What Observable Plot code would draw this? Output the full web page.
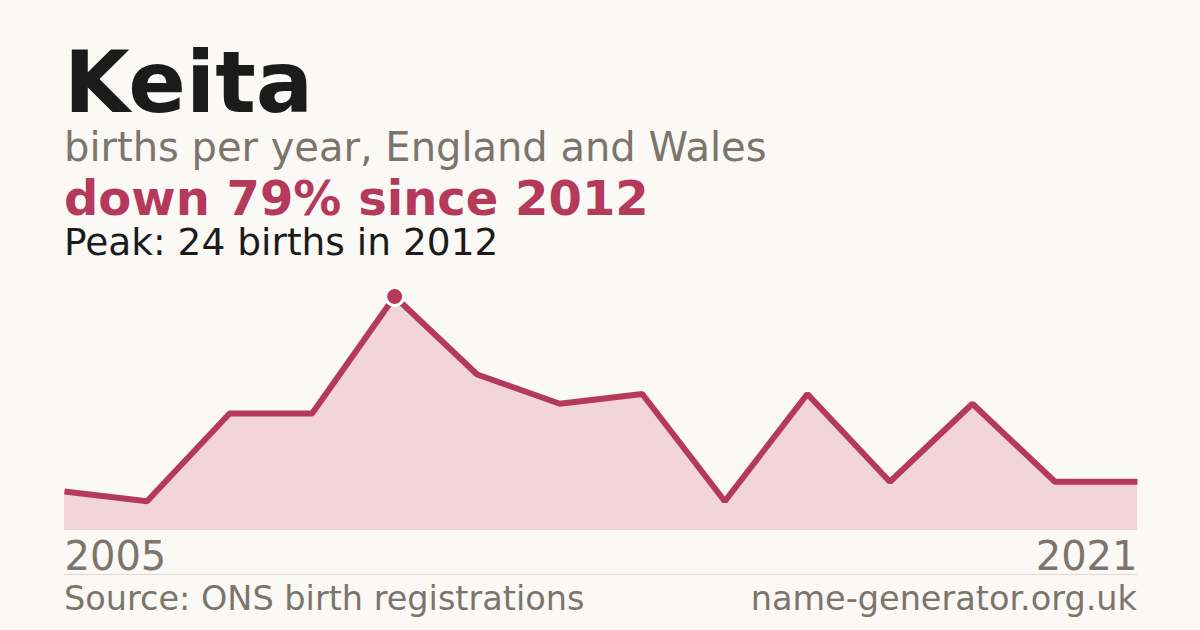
<!DOCTYPE html>
<html>
<head>
<meta charset="utf-8">
<script src="https://cdn.jsdelivr.net/npm/d3@7"></script>
<script src="https://cdn.jsdelivr.net/npm/@observablehq/plot@0.6"></script>
<style>
  html, body { margin: 0; padding: 0; background: #faf9f5; }
  body { width: 1200px; height: 630px; position: relative; overflow: hidden; font-family: "DejaVu Sans", sans-serif; }
  .t { position: absolute; left: 64px; white-space: nowrap; line-height: 1; }
  #title { top: 40px; font-size: 85px; font-weight: bold; color: #1b1b1b; }
  #sub { top: 127px; font-size: 40px; color: #7a756d; }
  #head { top: 174px; font-size: 48px; font-weight: bold; color: #b5395a; }
  #peak { top: 224px; font-size: 37.5px; color: #1b1b1b; }
  #chart { position: absolute; left: 0; top: 280px; }
  #rule { position: absolute; left: 64px; width: 1073px; top: 574px; height: 1px; background: #ddd9d0; }
  #src { position: absolute; left: 64px; top: 582px; font-size: 33.5px; color: #7a756d; white-space: nowrap; line-height: 1; }
  #site { position: absolute; right: 63px; top: 582px; font-size: 33.5px; color: #7a756d; white-space: nowrap; line-height: 1; }
</style>
</head>
<body>
<div class="t" id="title">Keita</div>
<div class="t" id="sub">births per year, England and Wales</div>
<div class="t" id="head">down 79% since 2012</div>
<div class="t" id="peak">Peak: 24 births in 2012</div>
<div id="chart"></div>
<div id="rule"></div>
<div id="src">Source: ONS birth registrations</div>
<div id="site">name-generator.org.uk</div>
<script>
const years = [2005, 2009, 2010, 2011, 2012, 2013, 2014, 2015, 2016, 2017, 2018, 2019, 2020, 2021];
const births = [4, 3, 12, 12, 24, 16, 13, 14, 3, 14, 5, 13, 5, 5];
const yearLabels = ["2005", "2021"];

const data = years.map((y, i) => ({i, year: y, births: births[i]}));
const peakIndex = births.indexOf(d3.max(births));
const peak = [data[peakIndex]];
const ends = [
  {i: 0, label: yearLabels[0]},
  {i: data.length - 1, label: yearLabels[1]}
];

const chart = Plot.plot({
  width: 1200,
  height: 300,
  marginLeft: 64,
  marginRight: 63,
  marginTop: 16,
  marginBottom: 50,
  style: {background: "transparent", fontFamily: "DejaVu Sans, sans-serif", overflow: "visible"},
  x: {domain: [0, data.length - 1], axis: null},
  y: {domain: [0, 24], axis: null},
  marks: [
    Plot.areaY(data, {x: "i", y: "births", fill: "#f2d5da"}),
    Plot.lineY(data, {x: "i", y: "births", stroke: "#b5395a", strokeWidth: 6, strokeLinejoin: "miter", strokeLinecap: "butt"}),
    Plot.dot(peak, {x: "i", y: "births", r: 9, fill: "#b5395a", stroke: "#ffffff", strokeWidth: 3}),
    Plot.text(ends.slice(0, 1), {x: "i", y: () => 0, text: "label", textAnchor: "start", lineAnchor: "top", dy: 11, fontSize: 40, fill: "#7a756d"}),
    Plot.text(ends.slice(1), {x: "i", y: () => 0, text: "label", textAnchor: "end", lineAnchor: "top", dy: 11, fontSize: 40, fill: "#7a756d"})
  ]
});
document.getElementById("chart").appendChild(chart);
</script>
</body>
</html>
